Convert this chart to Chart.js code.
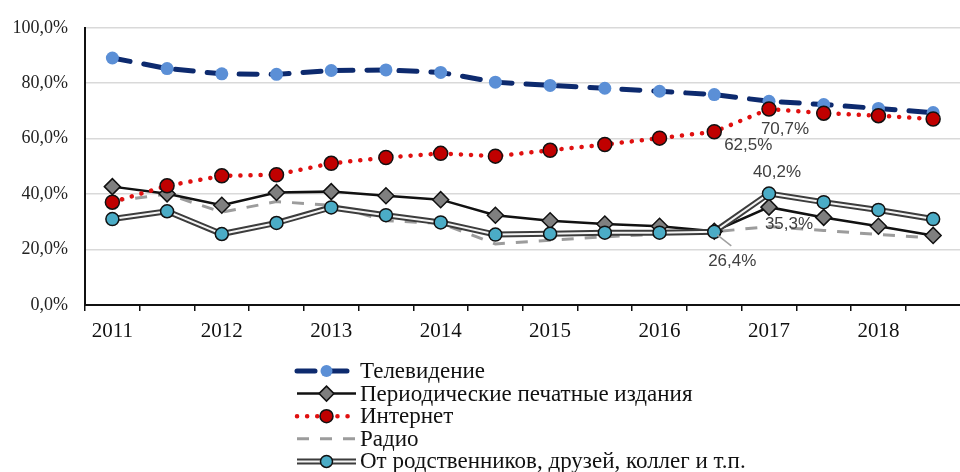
<!DOCTYPE html>
<html>
<head>
<meta charset="utf-8">
<script src="https://cdn.jsdelivr.net/npm/chart.js@4/dist/chart.umd.min.js"></script>
<style>
  html, body { margin: 0; padding: 0; overflow: hidden; background: #fff; }
  #wrap { width: 970px; height: 472px; }
</style>
</head>
<body>
<div id="wrap"><canvas id="chart" width="970" height="472"></canvas></div>
<script>
// Categories: half-year steps, label on every other one
const periods = ['2011', '', '2012', '', '2013', '', '2014', '', '2015', '', '2016', '', '2017', '', '2018', ''];

// Series values (%)
const tvValues = [89.1, 85.3, 83.4, 83.2, 84.6, 84.8, 83.9, 80.4, 79.2, 78.2, 77.1, 75.9, 73.5, 72.3, 70.9, 69.4];
const printValues = [42.7, 40.1, 36.0, 40.6, 40.9, 39.4, 38.0, 32.4, 30.4, 29.2, 28.4, 26.6, 35.3, 31.6, 28.4, 25.1];
const internetValues = [37.1, 43.0, 46.6, 47.0, 51.1, 53.2, 54.7, 53.7, 55.8, 57.9, 60.2, 62.5, 70.7, 69.2, 68.3, 67.1];
const radioValues = [37.5, 40.0, 33.5, 37.3, 36.0, 30.4, 29.5, 22.0, 23.4, 24.6, 25.6, 26.4, 28.3, 26.9, 25.4, 24.2];
const relativesValues = [31.0, 33.8, 25.6, 29.6, 35.2, 32.4, 29.8, 25.4, 25.7, 26.1, 26.1, 26.4, 40.2, 37.1, 34.3, 31.0];

// Y axis ticks
const yTicks = [0, 20, 40, 60, 80, 100];

// Series names
const seriesNames = ['Телевидение', 'Периодические печатные издания', 'Интернет', 'Радио', 'От родственников, друзей, коллег и т.п.'];

const SERIF = '"Liberation Serif", "DejaVu Serif", serif';
const SANS = '"Liberation Sans", Arial, sans-serif';

const fmt = v => v.toFixed(1).replace('.', ',') + '%';

// Draws the value callouts next to selected points
const callouts = [
  { ds: 2, i: 12, dx: 16, dy: 20 },
  { ds: 2, i: 11, dx: 34, dy: 14 },
  { ds: 5, i: 12, dx: 8, dy: -21 },
  { ds: 1, i: 12, dx: 20, dy: 17 },
  { ds: 5, i: 11, dx: 18, dy: 29, leader: true }
];

const calloutPlugin = {
  id: 'callouts',
  afterDatasetsDraw(chart) {
    const ctx = chart.ctx;
    ctx.save();
    ctx.font = '17px ' + SANS;
    ctx.fillStyle = '#404040';
    ctx.textAlign = 'center';
    ctx.textBaseline = 'middle';
    callouts.forEach(c => {
      const pt = chart.getDatasetMeta(c.ds).data[c.i];
      const value = chart.data.datasets[c.ds].data[c.i];
      if (c.leader) {
        ctx.strokeStyle = '#a0a0a0';
        ctx.lineWidth = 1.5;
        ctx.beginPath();
        ctx.moveTo(pt.x + 3, pt.y + 3);
        ctx.lineTo(pt.x + 17, pt.y + 14);
        ctx.stroke();
      }
      ctx.fillText(fmt(value), pt.x + c.dx, pt.y + c.dy);
    });
    ctx.restore();
  }
};

// Vertical legend with line samples
function drawMarker(ctx, style, x, y, r, fill, stroke) {
  ctx.beginPath();
  if (style === 'rectRot') {
    ctx.moveTo(x, y - r);
    ctx.lineTo(x + r, y);
    ctx.lineTo(x, y + r);
    ctx.lineTo(x - r, y);
    ctx.closePath();
  } else {
    ctx.arc(x, y, r, 0, Math.PI * 2);
  }
  ctx.fillStyle = fill;
  ctx.fill();
  if (stroke) {
    ctx.strokeStyle = stroke;
    ctx.lineWidth = 1.5;
    ctx.stroke();
  }
}

const legendPlugin = {
  id: 'vlegend',
  afterDraw(chart) {
    const ctx = chart.ctx;
    const dsets = chart.data.datasets;
    const rows = [
      { lines: [dsets[4]], marker: dsets[4] },
      { lines: [dsets[1]], marker: dsets[1] },
      { lines: [dsets[2]], marker: dsets[2] },
      { lines: [dsets[0]], marker: null },
      { lines: [dsets[5], dsets[3]], marker: dsets[3] }
    ];
    const x0 = 297, x1 = 356, xm = 326.5, xt = 360;
    ctx.save();
    rows.forEach((row, k) => {
      const y = 371 + k * 22.6;
      row.lines.forEach(d => {
        ctx.save();
        ctx.strokeStyle = d.borderColor;
        ctx.lineWidth = d.borderWidth;
        ctx.lineCap = d.borderCapStyle || 'butt';
        ctx.setLineDash(d.borderDash || []);
        ctx.beginPath();
        ctx.moveTo(x0, y);
        ctx.lineTo(x1, y);
        ctx.stroke();
        ctx.restore();
      });
      if (row.marker) {
        const m = row.marker;
        drawMarker(ctx, m.pointStyle, xm, y, m.pointRadius - 0.5, m.pointBackgroundColor,
          m.pointBorderWidth ? m.pointBorderColor : null);
      }
      ctx.fillStyle = '#111';
      ctx.font = '23px ' + SERIF;
      ctx.textAlign = 'left';
      ctx.textBaseline = 'middle';
      ctx.fillText(seriesNames[k], xt, y + 1);
    });
    ctx.restore();
  }
};

new Chart(document.getElementById('chart'), {
  type: 'line',
  data: {
    labels: periods,
    datasets: [
      {
        label: seriesNames[3],
        data: radioValues,
        borderColor: '#9c9c9c',
        borderWidth: 3,
        borderDash: [12, 11],
        pointRadius: 0,
        order: 6
      },
      {
        label: seriesNames[1],
        data: printValues,
        borderColor: '#111111',
        borderWidth: 2.5,
        pointStyle: 'rectRot',
        pointRadius: 8,
        pointBackgroundColor: '#7f7f7f',
        pointBorderColor: '#111111',
        pointBorderWidth: 1.5,
        order: 4
      },
      {
        label: seriesNames[2],
        data: internetValues,
        borderColor: '#e01010',
        borderWidth: 4.5,
        borderDash: [0.1, 10],
        borderCapStyle: 'round',
        pointRadius: 7,
        pointBackgroundColor: '#c00000',
        pointBorderColor: '#111111',
        pointBorderWidth: 1.5,
        order: 1
      },
      {
        label: seriesNames[4],
        data: relativesValues,
        borderColor: '#f4f4f4',
        borderWidth: 2,
        pointRadius: 6.5,
        pointBackgroundColor: '#4bacc6',
        pointBorderColor: '#111111',
        pointBorderWidth: 1.5,
        order: 2
      },
      {
        label: seriesNames[0],
        data: tvValues,
        borderColor: '#0d2a6e',
        borderWidth: 5,
        borderDash: [18, 14],
        borderCapStyle: 'round',
        pointRadius: 6.5,
        pointBackgroundColor: '#5b8fd6',
        pointBorderWidth: 0,
        order: 5
      },
      {
        label: seriesNames[4],
        data: relativesValues,
        borderColor: '#3c3c3c',
        borderWidth: 6,
        pointRadius: 0,
        order: 3
      }
    ]
  },
  options: {
    responsive: false,
    animation: false,
    devicePixelRatio: 1,
    layout: { padding: { top: 20, left: 0, right: 0, bottom: 0 } },
    plugins: {
      legend: { display: false },
      tooltip: { enabled: false }
    },
    scales: {
      x: {
        offset: true,
        afterFit: scale => { scale.height = 167; },
        border: { color: '#111', width: 2 },
        grid: { offset: true, drawOnChartArea: false, drawTicks: true, tickLength: 6, color: '#111', lineWidth: 1.5 },
        ticks: {
          autoSkip: false,
          maxRotation: 0,
          padding: 8,
          color: '#111',
          font: { family: SERIF, size: 21 }
        }
      },
      y: {
        min: 0,
        max: 100,
        afterFit: scale => { scale.width = 85; },
        afterBuildTicks: scale => { scale.ticks = yTicks.map(v => ({ value: v })); },
        border: { color: '#111', width: 2 },
        grid: { color: '#d9d9d9', lineWidth: 1.5, drawTicks: false },
        ticks: {
          padding: 17,
          color: '#222',
          font: { family: SERIF, size: 18 },
          callback: v => fmt(v)
        }
      }
    }
  },
  plugins: [calloutPlugin, legendPlugin]
});
</script>
</body>
</html>
